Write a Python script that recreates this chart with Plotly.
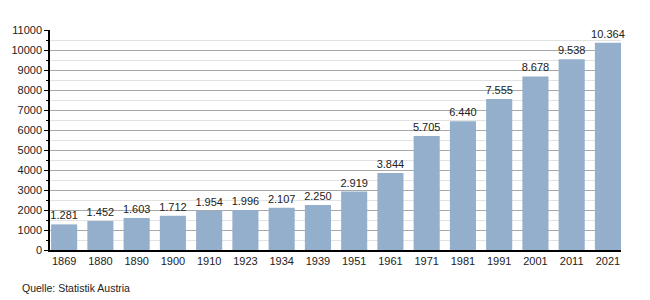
import plotly.graph_objects as go

years = ["1869", "1880", "1890", "1900", "1910", "1923", "1934", "1939",
         "1951", "1961", "1971", "1981", "1991", "2001", "2011", "2021"]
values = [1281, 1452, 1603, 1712, 1954, 1996, 2107, 2250,
          2919, 3844, 5705, 6440, 7555, 8678, 9538, 10364]
source_text = "Quelle: Statistik Austria"

font_family = "Liberation Sans, Arial, sans-serif"

fig = go.Figure(go.Bar(
    x=years,
    y=values,
    width=0.72,
    marker=dict(color="#94AFCB", line=dict(width=0)),
    texttemplate="%{y:,}",
    textposition="outside",
    constraintext="none",
    cliponaxis=False,
    textfont=dict(family=font_family, size=11, color="#222222"),
))

fig.update_layout(
    width=650, height=300,
    margin=dict(l=50, r=29, t=30, b=50),
    paper_bgcolor="white", plot_bgcolor="white",
    separators=",.",
    showlegend=False,
    font=dict(family=font_family, size=11, color="#222222"),
    annotations=[dict(
        text=source_text, xref="paper", yref="paper",
        x=-0.053, y=-0.173, xanchor="left", yanchor="middle",
        showarrow=False, font=dict(family=font_family, size=10.5, color="#222222"),
    )],
)

fig.update_xaxes(
    type="category",
    range=[-0.39, 15.36],
    showline=True, linecolor="black", linewidth=1.5,
    ticks="", showgrid=False,
    tickfont=dict(family=font_family, size=11, color="#222222"),
)

fig.update_yaxes(
    range=[0, 11000],
    dtick=1000, tickformat="d",
    showline=True, linecolor="black", linewidth=1.5,
    ticks="outside", ticklen=4, tickcolor="black",
    showgrid=True, gridcolor="#A8A8A8", gridwidth=1,
    zeroline=False,
    tickfont=dict(family=font_family, size=11, color="#222222"),
    minor=dict(dtick=500, showgrid=True, gridcolor="#E2E2E2", gridwidth=1,
               ticks="outside", ticklen=2, tickcolor="black"),
)

fig.write_html("out.html")
